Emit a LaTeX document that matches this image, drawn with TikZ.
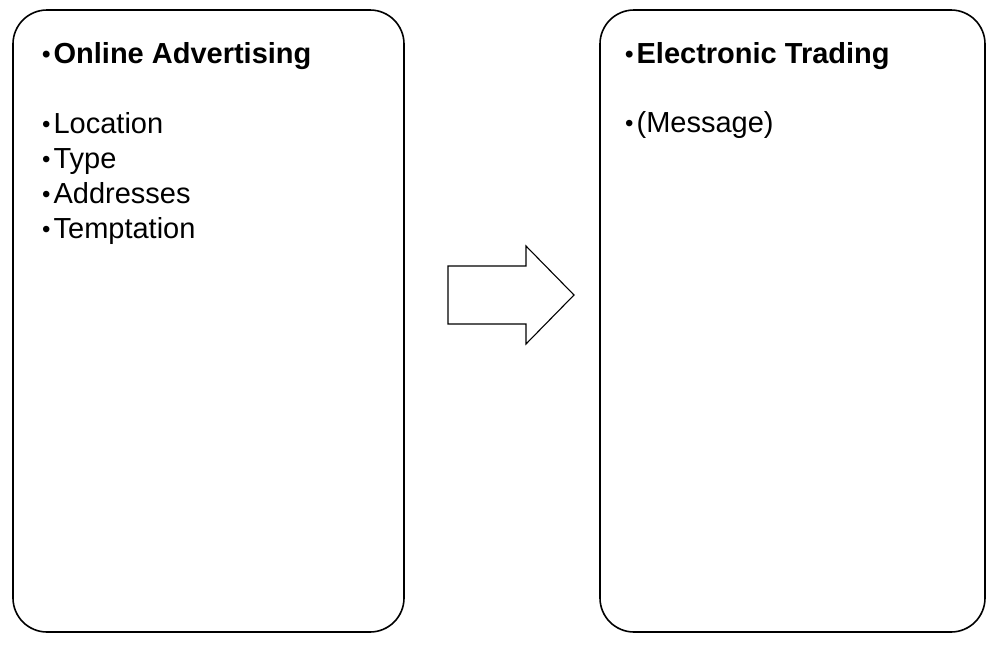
\documentclass[tikz,border=0pt]{standalone}
\usepackage{fontspec}
\setmainfont{Liberation Sans}
\usepackage{tikz}
\usetikzlibrary{positioning}
% small bullet
\newcommand{\pbul}{\raisebox{0.5pt}{\fontsize{24}{24}\selectfont •}\hspace{3pt}}
\tikzset{
  % rounded panel
  panel/.style={draw, line width=1.6pt, rounded corners=34pt, minimum width=391pt, minimum height=622pt, inner sep=0pt},
  % headings and items
  head/.style={anchor=base west, inner sep=0pt, font=\fontsize{29}{35}\selectfont\bfseries},
  item/.style={anchor=base west, inner sep=0pt, font=\fontsize{29}{35}\selectfont},
  % block arrow
  blockarrow/.style={draw, line width=1.1pt, line join=miter, fill=white}
}
\begin{document}
\begin{tikzpicture}[x=1pt, y=-1pt]
    \useasboundingbox (0,0) rectangle (986,646);

    % two panels
    \node[panel] (online) at (208.5, 321) {};
    \node[panel, minimum width=385pt] (trading) at (792.5, 321) {};

    % left panel text
    \node[head] (ohead) at (42, 63) {\pbul Online Advertising};
    \foreach \t [count=\i] in {Location, Type, Addresses, Temptation}
        \node[item] (oitem\i) at (42, 98+35*\i) {\pbul\t};

    % right panel text
    \node[head] (thead) at (625, 63) {\pbul Electronic Trading};
    \node[item] (titem) at (625, 132) {\pbul(Message)};

    % arrow between panels
    \draw[blockarrow] (448,266) -- (526,266) -- (526,246) -- (574,295)
        -- (526,344) -- (526,324) -- (448,324) -- cycle;
\end{tikzpicture}
\end{document}
